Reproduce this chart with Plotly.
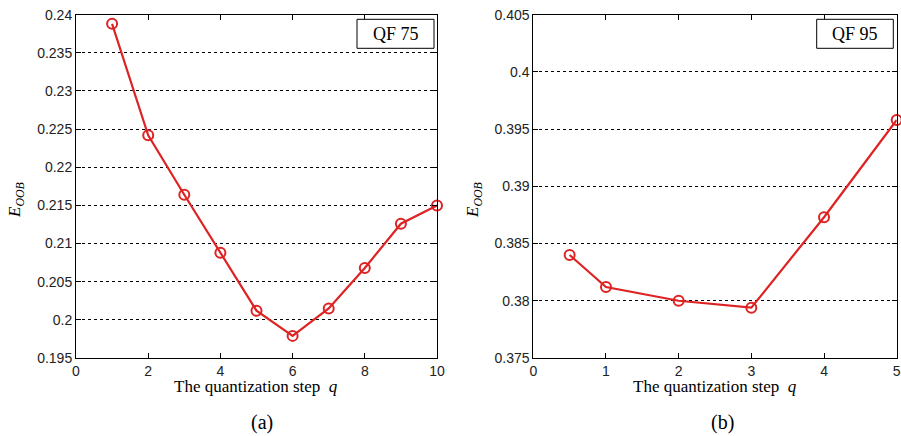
import plotly.graph_objects as go

# ---- data ----
q_a = [1, 2, 3, 4, 5, 6, 7, 8, 9, 10]
e_a = [0.2388, 0.2242, 0.2164, 0.2088, 0.2012, 0.1979, 0.2015, 0.2068, 0.2126, 0.2150]
q_b = [0.5, 1, 2, 3, 4, 5]
e_b = [0.3840, 0.3812, 0.3800, 0.3794, 0.3873, 0.3958]

xt_a = [0, 2, 4, 6, 8, 10]
yt_a = [0.195, 0.2, 0.205, 0.21, 0.215, 0.22, 0.225, 0.23, 0.235, 0.24]
yl_a = ["0.195", "0.2", "0.205", "0.21", "0.215", "0.22", "0.225", "0.23", "0.235", "0.24"]
xt_b = [0, 1, 2, 3, 4, 5]
yt_b = [0.375, 0.38, 0.385, 0.39, 0.395, 0.4, 0.405]
yl_b = ["0.375", "0.38", "0.385", "0.39", "0.395", "0.4", "0.405"]

W, H = 901, 436
RED = "#dd2323"
SANS = "Liberation Sans, Arial, sans-serif"
SERIF = "Liberation Serif, Times New Roman, serif"

fig = go.Figure()
line = dict(color=RED, width=2.2)
marker = dict(symbol="circle-open", size=10, color=RED, line=dict(width=2, color=RED))
fig.add_trace(go.Scatter(x=q_a, y=e_a, mode="lines+markers", line=line, marker=marker,
                         xaxis="x", yaxis="y", showlegend=False, cliponaxis=False))
fig.add_trace(go.Scatter(x=q_b, y=e_b, mode="lines+markers", line=line, marker=marker,
                         xaxis="x2", yaxis="y2", showlegend=False, cliponaxis=False))

ydom = [1 - 358 / H, 1 - 14.7 / H]
common_x = dict(showline=True, linecolor="black", linewidth=1, mirror="ticks",
                ticks="inside", ticklen=5, tickcolor="black", showgrid=False, zeroline=False,
                automargin=False, tickfont=dict(family=SANS, size=14, color="#222"))
common_y = dict(showline=True, linecolor="black", linewidth=1, mirror="ticks",
                ticks="inside", ticklen=5, tickcolor="black", showgrid=True,
                gridcolor="black", griddash="dot", gridwidth=1, zeroline=False,
                automargin=False, tickfont=dict(family=SANS, size=14, color="#222"))

fig.update_layout(
    template="none",
    width=W, height=H, margin=dict(l=0, r=0, t=0, b=0, pad=0, autoexpand=False),
    paper_bgcolor="white", plot_bgcolor="white",
    xaxis=dict(domain=[76 / W, 437 / W], range=[0, 10], tickvals=xt_a, anchor="y", **common_x),
    yaxis=dict(domain=ydom, range=[0.195, 0.24], tickvals=yt_a, ticktext=yl_a, anchor="x", **common_y),
    xaxis2=dict(domain=[533.3 / W, 896.7 / W], range=[0, 5], tickvals=xt_b, anchor="y2", **common_x),
    yaxis2=dict(domain=ydom, range=[0.375, 0.405], tickvals=yt_b, ticktext=yl_b, anchor="x2", **common_y),
)

ann = []
def txt(x, y, s, size, angle=0):
    ann.append(dict(x=x / W, y=1 - y / H, xref="paper", yref="paper", text=s, showarrow=False,
                    xanchor="center", yanchor="middle", textangle=angle,
                    font=dict(family=SERIF, size=size, color="black")))

txt(256, 386, "The quantization step  <i>q</i>", 17)
txt(715, 386, "The quantization step  <i>q</i>", 17)
txt(262, 422, "(a)", 20)
txt(722, 422, "(b)", 20)
txt(16, 200, "<i>E</i><sub><i>OOB</i></sub>", 17, angle=-90)
txt(474, 200, "<i>E</i><sub><i>OOB</i></sub>", 17, angle=-90)
fig.update_layout(annotations=ann)

# legend-like boxes
for (x0, x1, label) in [(357, 434, "QF 75"), (816.7, 893.3, "QF 95")]:
    fig.add_shape(type="rect", xref="paper", yref="paper", x0=x0 / W, x1=x1 / W,
                  y0=1 - 48.3 / H, y1=1 - 19.3 / H, line=dict(color="black", width=1),
                  fillcolor="white", layer="above")
    fig.add_annotation(x=(x0 + x1) / 2 / W, y=1 - 34 / H, xref="paper", yref="paper",
                       xanchor="center", yanchor="middle",
                       text=label, showarrow=False, font=dict(family=SERIF, size=18, color="black"))

fig.write_html("out.html",
               post_script="document.body.style.margin='0';document.body.style.overflow='hidden';")
